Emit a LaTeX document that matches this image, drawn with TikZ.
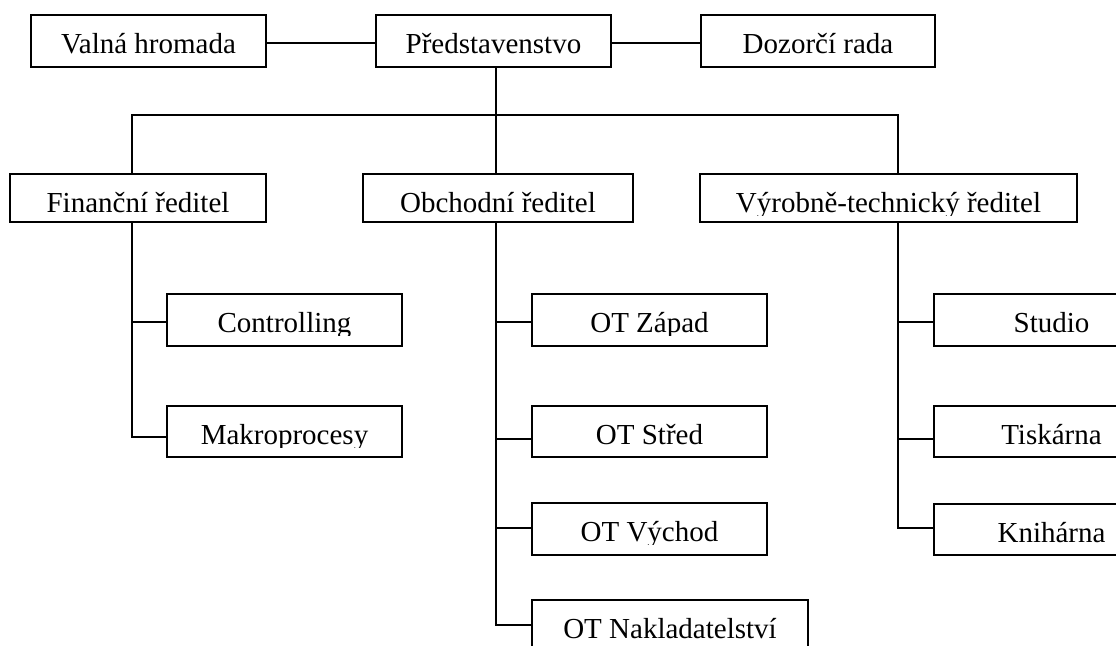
\documentclass[tikz,border=0pt]{standalone}
\usepackage{fontspec}
\setmainfont{Liberation Serif}
\newcommand\orgbox[6]{%
  \node[boxst, minimum width={#4-#2}, minimum height={#5-#3}] (#1) at (#2,#3) {};
  \begin{scope}
    \clip (#2,#3) rectangle (#4,#3+41.5);
    \node[lbl] (#1t) at ({(#2+#4)/2},#3+38.5) {#6};
  \end{scope}}
\begin{document}
\begin{tikzpicture}[x=1pt,y=-1pt,line width=1.6pt,
  boxst/.style={draw, rectangle, inner sep=0pt, outer sep=0pt, anchor=north west},
  lbl/.style={font=\fontsize{29}{34}\selectfont, anchor=base, inner sep=0pt}]
\useasboundingbox (0,0) rectangle (1116,645);
\clip (0,0) rectangle (1116,645);

\orgbox{valna}{31}{15}{266}{67}{Valná hromada}
\orgbox{pred}{376}{15}{611}{67}{Představenstvo}
\orgbox{dozor}{701}{15}{935}{67}{Dozorčí rada}

\orgbox{fin}{10}{174}{266}{222}{Finanční ředitel}
\orgbox{obch}{363}{174}{633}{222}{Obchodní ředitel}
\orgbox{vyr}{700}{174}{1077}{222}{Výrobně-technický ředitel}

\orgbox{ctrl}{167}{294}{402}{346}{Controlling}
\orgbox{mak}{167}{406}{402}{457}{Makroprocesy}

\orgbox{zap}{532}{294}{767}{346}{OT Západ}
\orgbox{str}{532}{406}{767}{457}{OT Střed}
\orgbox{vych}{532}{503}{767}{555}{OT Východ}
\orgbox{nak}{532}{600}{808}{660}{OT Nakladatelství}

\orgbox{stu}{934}{294}{1169}{346}{Studio}
\orgbox{tis}{934}{406}{1169}{457}{Tiskárna}
\orgbox{kni}{934}{504}{1169}{555}{Knihárna}

\coordinate (bus) at (496,115);
\coordinate (tf) at (132,0);
\coordinate (to) at (496,0);
\coordinate (tv) at (898,0);

\draw ([yshift=-2pt]valna.east) -- ([yshift=-2pt]pred.west);
\draw ([yshift=-2pt]pred.east) -- ([yshift=-2pt]dozor.west);
\draw (pred.south -| bus) -- (bus);
\draw (fin.north -| tf) |- (bus) -| (vyr.north -| tv);
\draw (obch.north -| to) -- (bus);

\draw (fin.south -| tf) |- ([yshift=-5.5pt]mak.west);
\draw ([yshift=-2pt]ctrl.west) -- ++(-35,0);

\draw (obch.south -| to) |- ([yshift=5pt]nak.west);
\draw ([yshift=-2pt]zap.west) -- ++(-36,0);
\draw ([yshift=-7.5pt]str.west) -- ++(-36,0);
\draw ([yshift=1pt]vych.west) -- ++(-36,0);

\draw (vyr.south -| tv) |- ([yshift=1.5pt]kni.west);
\draw ([yshift=-2pt]stu.west) -- ++(-36,0);
\draw ([yshift=-7.5pt]tis.west) -- ++(-36,0);
\end{tikzpicture}
\end{document}
